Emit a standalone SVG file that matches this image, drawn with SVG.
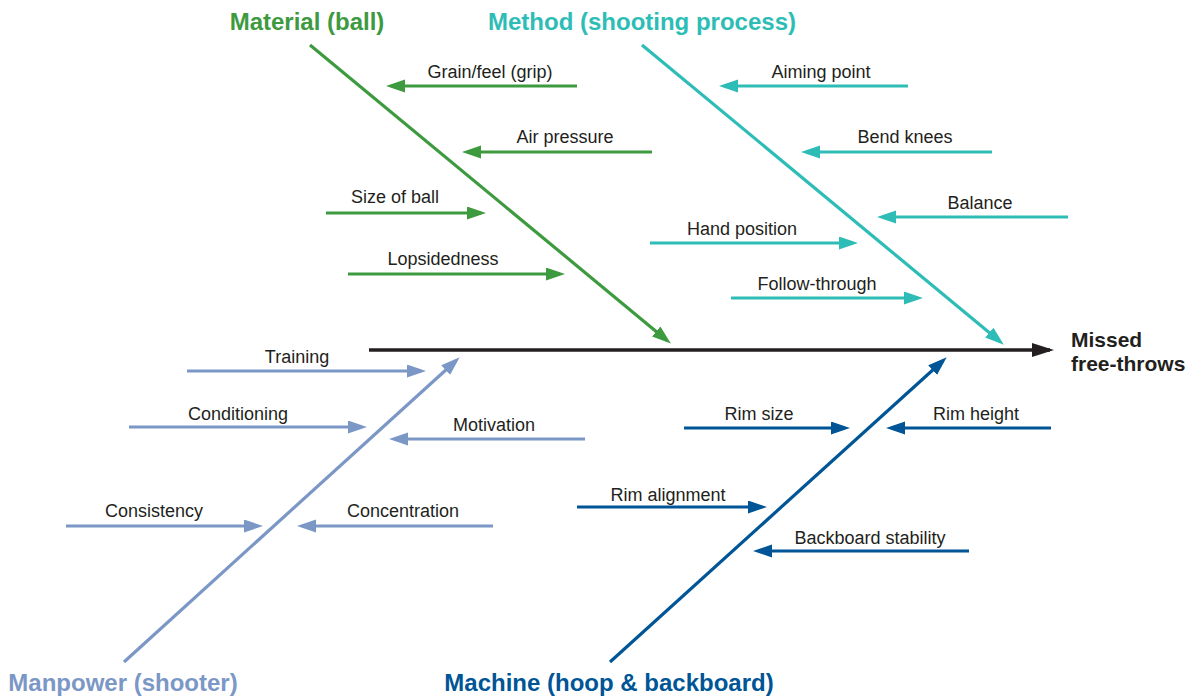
<svg xmlns="http://www.w3.org/2000/svg" width="1189" height="697" viewBox="0 0 1189 697">
<style>
.lbl{font-family:"Liberation Sans",Arial,sans-serif;font-size:18px;fill:#231f20;text-anchor:middle}
.hdr{font-family:"Liberation Sans",Arial,sans-serif;font-size:24px;font-weight:bold;text-anchor:middle}
.eff{font-family:"Liberation Sans",Arial,sans-serif;font-size:21px;font-weight:bold;fill:#231f20}
.g{stroke:#3d9a3f}.t{stroke:#2dbdb6}.lb{stroke:#7b97c6}.db{stroke:#005596}
line{stroke-width:3.2;fill:none}
</style>
<defs>
<marker id="aG" markerUnits="userSpaceOnUse" markerWidth="20" markerHeight="14" refX="14" refY="6.5" orient="auto"><path d="M0,0 L19,6.5 L0,13 z" fill="#3d9a3f"/></marker>
<marker id="aT" markerUnits="userSpaceOnUse" markerWidth="20" markerHeight="14" refX="14" refY="6.5" orient="auto"><path d="M0,0 L19,6.5 L0,13 z" fill="#2dbdb6"/></marker>
<marker id="aL" markerUnits="userSpaceOnUse" markerWidth="20" markerHeight="14" refX="14" refY="6.5" orient="auto"><path d="M0,0 L19,6.5 L0,13 z" fill="#7b97c6"/></marker>
<marker id="aD" markerUnits="userSpaceOnUse" markerWidth="20" markerHeight="14" refX="14" refY="6.5" orient="auto"><path d="M0,0 L19,6.5 L0,13 z" fill="#005596"/></marker>
<marker id="aK" markerUnits="userSpaceOnUse" markerWidth="24" markerHeight="16" refX="18" refY="7" orient="auto"><path d="M0,0 L22,7 L0,14 z" fill="#231f20"/></marker>
</defs>

<g id="connectors">
<line x1="369" y1="350" x2="1050" y2="350" style="stroke:#231f20;stroke-width:3.5" marker-end="url(#aK)"/>
<line class="g" x1="310" y1="45" x2="667" y2="340.4" marker-end="url(#aG)"/>
<line class="t" x1="642" y1="45" x2="1000" y2="341.5" marker-end="url(#aT)"/>
<line class="lb" x1="124" y1="662" x2="456" y2="360.7" marker-end="url(#aL)"/>
<line class="db" x1="610" y1="662" x2="943" y2="360.7" marker-end="url(#aD)"/>

<line class="g" x1="577" y1="86" x2="391" y2="86" marker-end="url(#aG)"/>
<line class="g" x1="652" y1="152" x2="467" y2="152" marker-end="url(#aG)"/>
<line class="g" x1="326" y1="213" x2="481" y2="213" marker-end="url(#aG)"/>
<line class="g" x1="348" y1="274" x2="560" y2="274" marker-end="url(#aG)"/>

<line class="t" x1="908" y1="86" x2="724" y2="86" marker-end="url(#aT)"/>
<line class="t" x1="992" y1="152" x2="806" y2="152" marker-end="url(#aT)"/>
<line class="t" x1="1068" y1="217" x2="882" y2="217" marker-end="url(#aT)"/>
<line class="t" x1="650" y1="243" x2="853" y2="243" marker-end="url(#aT)"/>
<line class="t" x1="731" y1="298" x2="918" y2="298" marker-end="url(#aT)"/>

<line class="lb" x1="187" y1="371" x2="421" y2="371" marker-end="url(#aL)"/>
<line class="lb" x1="129" y1="427" x2="362" y2="427" marker-end="url(#aL)"/>
<line class="lb" x1="585" y1="439" x2="394" y2="439" marker-end="url(#aL)"/>
<line class="lb" x1="66" y1="526" x2="258" y2="526" marker-end="url(#aL)"/>
<line class="lb" x1="493" y1="526" x2="302" y2="526" marker-end="url(#aL)"/>

<line class="db" x1="684" y1="428" x2="845" y2="428" marker-end="url(#aD)"/>
<line class="db" x1="1051" y1="428" x2="891" y2="428" marker-end="url(#aD)"/>
<line class="db" x1="577" y1="507" x2="762" y2="507" marker-end="url(#aD)"/>
<line class="db" x1="969" y1="551" x2="758" y2="551" marker-end="url(#aD)"/>
</g>

<g id="effect"><text class="eff" x="1071" y="347">Missed</text><text class="eff" x="1071" y="371">free-throws</text></g>

<g id="material"><text class="hdr" x="307" y="30" fill="#3d9a3f">Material (ball)</text></g>
<g id="method"><text class="hdr" x="642" y="30" fill="#2dbdb6">Method (shooting process)</text></g>
<g id="manpower"><text class="hdr" x="123" y="691" fill="#7b97c6">Manpower (shooter)</text></g>
<g id="machine"><text class="hdr" x="609" y="691" fill="#005596">Machine (hoop &amp; backboard)</text></g>

<g id="grain"><text class="lbl" x="490" y="78">Grain/feel (grip)</text></g>
<g id="air"><text class="lbl" x="565" y="143">Air pressure</text></g>
<g id="size"><text class="lbl" x="395" y="203">Size of ball</text></g>
<g id="lop"><text class="lbl" x="443" y="265">Lopsidedness</text></g>

<g id="aiming"><text class="lbl" x="821" y="78">Aiming point</text></g>
<g id="bend"><text class="lbl" x="905" y="143">Bend knees</text></g>
<g id="balance"><text class="lbl" x="980" y="209">Balance</text></g>
<g id="hand"><text class="lbl" x="742" y="235">Hand position</text></g>
<g id="follow"><text class="lbl" x="817" y="290">Follow-through</text></g>

<g id="training"><text class="lbl" x="297" y="363">Training</text></g>
<g id="conditioning"><text class="lbl" x="238" y="420">Conditioning</text></g>
<g id="motivation"><text class="lbl" x="494" y="431">Motivation</text></g>
<g id="consistency"><text class="lbl" x="154" y="517">Consistency</text></g>
<g id="concentration"><text class="lbl" x="403" y="517">Concentration</text></g>

<g id="rimsize"><text class="lbl" x="759" y="420">Rim size</text></g>
<g id="rimheight"><text class="lbl" x="976" y="420">Rim height</text></g>
<g id="rimalign"><text class="lbl" x="668" y="501">Rim alignment</text></g>
<g id="backboard"><text class="lbl" x="870" y="544">Backboard stability</text></g>
</svg>
